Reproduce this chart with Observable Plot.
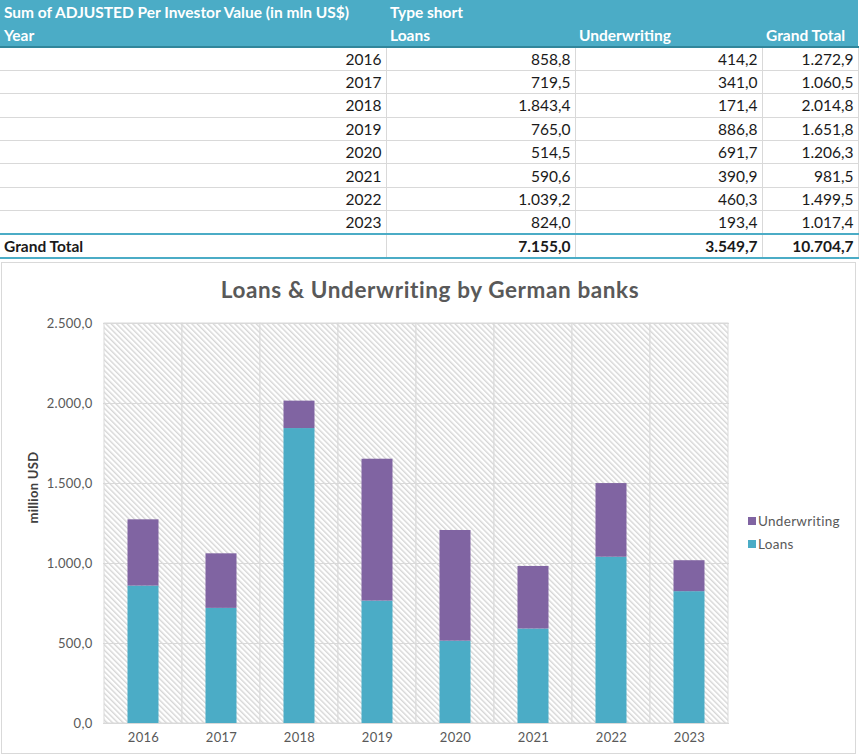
<!DOCTYPE html>
<html>
<head>
<meta charset="utf-8">
<script src="https://cdn.jsdelivr.net/npm/d3@7"></script>
<script src="https://cdn.jsdelivr.net/npm/@observablehq/plot@0.6"></script>
<style>
  html, body { margin: 0; padding: 0; background: #fff; width: 860px; height: 756px; overflow: hidden; }
  body { position: relative; font-family: Lato, "Open Sans", sans-serif; }
  #tbl { position: absolute; left: 0; top: 0; border-collapse: collapse; table-layout: fixed; width: 858px; font-size: 15.5px; color: #1a1a1a; }
  #tbl td { padding: 0 4px; white-space: nowrap; overflow: hidden; box-sizing: border-box; }
  #tbl tr.h td { background: #4BACC6; color: #fff; font-weight: bold; height: 23.5px; text-align: left; }
  #tbl tr.h2 td { border-bottom: 2px solid #31869B; }
  #tbl tr.r td { height: 23.4px; text-align: right; border-bottom: 1px solid #d9d9d9; border-right: 1px solid #d9d9d9; }
  #tbl tr.last td { border-bottom: 2px solid #4BACC6; }
  #tbl tr.gt td { font-weight: bold; border-bottom: 2px solid #4BACC6; }
  #tbl tr.gt td:first-child { text-align: left; }
  #chartbox { position: absolute; left: 1px; top: 262px; width: 855px; height: 492px; border: 1px solid #d9d9d9; box-sizing: border-box; }
  #title { position: absolute; left: 0; top: 276px; width: 860px; text-align: center; font-weight: bold; font-size: 22.5px; letter-spacing: 0.6px; color: #595959; }
  #plot { position: absolute; left: 0; top: 305px; }
  #legend { position: absolute; left: 748px; top: 509px; font-size: 13.5px; letter-spacing: 0.3px; color: #595959; }
  #legend div { height: 23px; display: flex; align-items: center; }
  #legend span.sw { display: inline-block; width: 8px; height: 8px; margin-right: 2px; }
</style>
</head>
<body>
<table id="tbl"></table>
<div id="chartbox"></div>
<div id="title">Loans &amp; Underwriting by German banks</div>
<div id="plot"></div>
<div id="legend"></div>
<script>
// ---- data ----
const years = ["2016", "2017", "2018", "2019", "2020", "2021", "2022", "2023"];
const loans = [858.8, 719.5, 1843.4, 765.0, 514.5, 590.6, 1039.2, 824.0];
const underwriting = [414.2, 341.0, 171.4, 886.8, 691.7, 390.9, 460.3, 193.4];
const totals = [1272.9, 1060.5, 2014.8, 1651.8, 1206.3, 981.5, 1499.5, 1017.4];
const grandTotals = [7155.0, 3549.7, 10704.7];
const series = ["Loans", "Underwriting"];
const seriesColors = ["#4BACC6", "#8064A2"];
const yTicks = [0, 500, 1000, 1500, 2000, 2500];
const tableTitle = "Sum of ADJUSTED Per Investor Value (in mln US$)";
const typeHeader = "Type short";
const yearHeader = "Year";
const totalHeader = "Grand Total";
const chartTitle = "Loans & Underwriting by German banks";
const yLabel = "million USD";

const de = d3.formatLocale({decimal: ",", thousands: ".", grouping: [3], currency: ["", "€"]});
const fmt = de.format(",.1f");

// ---- table ----
const tbl = document.getElementById("tbl");
const colW = [386, 189, 187, 96];
let html = "<colgroup>" + colW.map(w => `<col style="width:${w}px">`).join("") + "</colgroup>";
html += `<tr class="h"><td>${tableTitle.replace("$", "&#36;")}</td><td colspan="3">${typeHeader}</td></tr>`;
html += `<tr class="h h2"><td>${yearHeader}</td><td>${series[0]}</td><td>${series[1]}</td><td>${totalHeader}</td></tr>`;
years.forEach((y, i) => {
  html += `<tr class="r${i === years.length - 1 ? " last" : ""}"><td>${y}</td><td>${fmt(loans[i])}</td><td>${fmt(underwriting[i])}</td><td>${fmt(totals[i])}</td></tr>`;
});
html += `<tr class="r gt"><td>${totalHeader}</td>${grandTotals.map(v => `<td>${fmt(v)}</td>`).join("")}</tr>`;
tbl.innerHTML = html;

// ---- chart ----
const rows = [];
years.forEach((y, i) => {
  rows.push({year: y, type: series[0], value: loans[i]});
  rows.push({year: y, type: series[1], value: underwriting[i]});
});

const svg = Plot.plot({
  width: 760,
  height: 448,
  marginLeft: 103,
  marginRight: 31,
  marginTop: 18,
  marginBottom: 30,
  style: {fontFamily: "Lato, 'Open Sans', sans-serif", fontSize: "13px", color: "#595959", background: "transparent", letterSpacing: "0.3px"},
  x: {domain: years, padding: 0, label: null},
  y: {domain: [0, 2500], label: null},
  color: {domain: series, range: seriesColors},
  marks: [
    Plot.cell(years, {x: d => d, fill: "url(#hatch)", stroke: "#d9d9d9", inset: 0}),
    Plot.gridY(yTicks, {stroke: "#d9d9d9", strokeOpacity: 1}),
    Plot.barY(rows, {x: "year", y: "value", fill: "type", insetLeft: 23.5, insetRight: 23.5}),
    Plot.axisX({tickSize: 0, tickPadding: 9, fontSize: 13, fill: "#595959"}),
    Plot.axisY(yTicks, {tickSize: 0, tickPadding: 11, tickFormat: fmt, fontSize: 13, fill: "#595959", label: null}),
    Plot.text([yLabel], {frameAnchor: "left", rotate: -90, dx: -70, fontWeight: "bold", fontSize: 13, fill: "#404040"})
  ]
});

const defs = d3.select(svg).insert("defs", ":first-child");
const pat = defs.append("pattern")
  .attr("id", "hatch")
  .attr("patternUnits", "userSpaceOnUse")
  .attr("width", 3.8)
  .attr("height", 3.8)
  .attr("patternTransform", "rotate(-45)");
pat.append("rect").attr("width", 3.8).attr("height", 3.8).attr("fill", "#ffffff");
pat.append("rect").attr("width", 1.4).attr("height", 3.8).attr("fill", "#d6d6d6");

document.getElementById("plot").appendChild(svg);

// ---- legend ----
const leg = document.getElementById("legend");
series.slice().reverse().forEach(s => {
  const c = seriesColors[series.indexOf(s)];
  const d = document.createElement("div");
  d.innerHTML = `<span class="sw" style="background:${c}"></span>${s}`;
  leg.appendChild(d);
});
</script>
</body>
</html>
